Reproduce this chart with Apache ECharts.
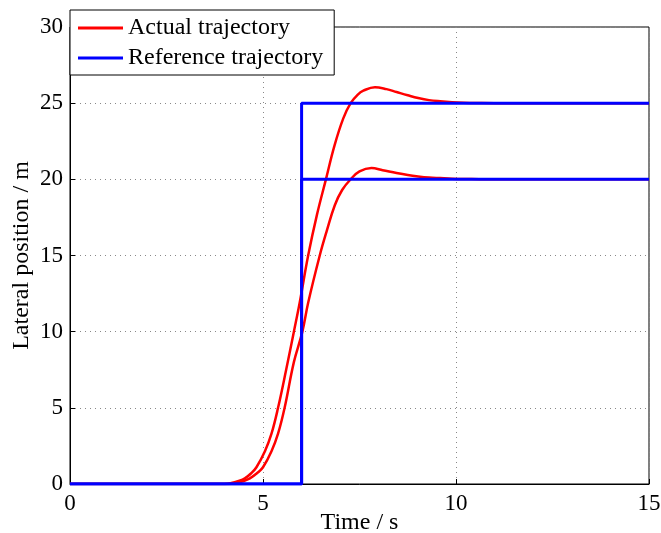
<!DOCTYPE html>
<html>
<head>
<meta charset="utf-8">
<script src="https://cdn.jsdelivr.net/npm/echarts@6/dist/echarts.min.js"></script>
<style>
  html, body { margin: 0; padding: 0; background: #fff; }
  #chart { width: 661px; height: 533px; }
</style>
</head>
<body>
<div id="chart"></div>
<script>
// actual trajectory, lane change to 25 m
const tActualA = [0, 4.0, 4.18, 4.35, 4.53, 4.7, 4.83, 5.05, 5.22, 5.39, 5.6, 5.8, 5.95, 6.17, 6.4, 6.63, 6.85, 7.08, 7.27, 7.45, 7.6, 7.9, 8.2, 8.46, 8.75, 9.02, 9.3, 9.59, 9.9, 10.19, 10.6, 11, 15];
const yActualA = [0, 0, 0.06, 0.18, 0.37, 0.72, 1.1, 2.15, 3.3, 5.0, 7.5, 10.0, 11.9, 15.0, 17.7, 20.0, 22.2, 24.0, 25.0, 25.55, 25.82, 26.05, 25.92, 25.73, 25.52, 25.34, 25.2, 25.12, 25.06, 25.03, 25.01, 25, 25];

// actual trajectory, lane change to 20 m
const tActualB = [0, 4.1, 4.3, 4.48, 4.66, 4.85, 5.0, 5.22, 5.39, 5.56, 5.8, 6.02, 6.17, 6.47, 6.65, 6.86, 7.05, 7.27, 7.5, 7.81, 8.1, 8.46, 8.75, 9.02, 9.3, 9.59, 9.9, 10.2, 10.6, 11, 15];
const yActualB = [0, 0, 0.06, 0.18, 0.37, 0.72, 1.1, 2.15, 3.3, 5.0, 8.0, 10.0, 11.9, 15.0, 16.6, 18.3, 19.3, 20.0, 20.52, 20.74, 20.6, 20.41, 20.28, 20.19, 20.12, 20.08, 20.04, 20.02, 20.01, 20, 20];

// reference steps
const tRef = [0, 6, 6, 15];
const yRefA = [0, 0, 25, 25];
const yRefB = [0, 0, 20, 20];

const xTicks = [0, 5, 10, 15];
const yTicks = [0, 5, 10, 15, 20, 25, 30];

function zip(xs, ys) {
  return xs.map(function (x, i) { return [x, ys[i]]; });
}

const font = 'Liberation Serif';

var chart = echarts.init(document.getElementById('chart'));

var option = {
  backgroundColor: '#fff',
  animation: false,
  textStyle: { fontFamily: font, color: '#000' },
  grid: {
    left: 70, right: 12, top: 27, bottom: 49,
    outerBoundsMode: 'none', containLabel: false,
    show: true, borderColor: '#000', borderWidth: 1
  },
  legend: {
    orient: 'vertical',
    left: 70, top: 10,
    backgroundColor: '#fff',
    borderColor: '#000', borderWidth: 1, borderRadius: 0,
    padding: [6, 11, 5, 8],
    icon: 'rect',
    itemWidth: 45, itemHeight: 3, itemGap: 6,
    textStyle: { fontFamily: font, fontSize: 24, color: '#000' },
    data: ['Actual trajectory', 'Reference trajectory']
  },
  xAxis: {
    type: 'value',
    min: xTicks[0], max: xTicks[xTicks.length - 1], interval: 5,
    name: 'Time / s', nameLocation: 'middle', nameGap: 27, nameMoveOverlap: false,
    nameTextStyle: { fontFamily: font, fontSize: 24, color: '#000' },
    axisLine: { lineStyle: { color: '#000', width: 1 } },
    axisTick: { inside: true, length: 5, lineStyle: { color: '#000' } },
    axisLabel: { fontFamily: font, fontSize: 23, color: '#000', margin: 8 },
    splitLine: { show: true, lineStyle: { color: '#888', type: [1, 4], width: 1 } }
  },
  yAxis: {
    type: 'value',
    min: yTicks[0], max: yTicks[yTicks.length - 1], interval: 5,
    name: 'Lateral position / m', nameLocation: 'middle', nameGap: 36, nameMoveOverlap: false,
    nameTextStyle: { fontFamily: font, fontSize: 24, color: '#000' },
    axisLine: { show: true, lineStyle: { color: '#000', width: 1 } },
    axisTick: { show: true, inside: true, length: 5, lineStyle: { color: '#000' } },
    axisLabel: { fontFamily: font, fontSize: 23, color: '#000', margin: 7 },
    splitLine: { show: true, lineStyle: { color: '#888', type: [1, 4], width: 1 } }
  },
  series: [
    {
      name: 'Actual trajectory', type: 'line', data: zip(tActualA, yActualA),
      showSymbol: false, symbol: 'none', smooth: 0.4,
      lineStyle: { color: '#ff0000', width: 2.5 }, itemStyle: { color: '#ff0000' }
    },
    {
      name: 'Actual trajectory', type: 'line', data: zip(tActualB, yActualB),
      showSymbol: false, symbol: 'none', smooth: 0.4,
      lineStyle: { color: '#ff0000', width: 2.5 }, itemStyle: { color: '#ff0000' }
    },
    {
      name: 'Reference trajectory', type: 'line', data: zip(tRef, yRefA),
      showSymbol: false, symbol: 'none',
      lineStyle: { color: '#0000ff', width: 3 }, itemStyle: { color: '#0000ff' }
    },
    {
      name: 'Reference trajectory', type: 'line', data: zip(tRef, yRefB),
      showSymbol: false, symbol: 'none',
      lineStyle: { color: '#0000ff', width: 3 }, itemStyle: { color: '#0000ff' }
    }
  ]
};

chart.setOption(option);
</script>
</body>
</html>
